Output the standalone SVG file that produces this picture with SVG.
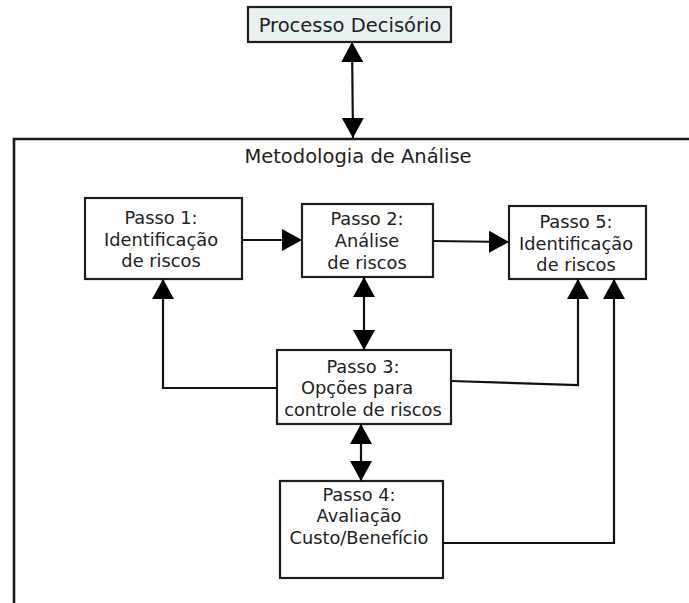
<svg xmlns="http://www.w3.org/2000/svg" width="689" height="603" viewBox="0 0 689 603">
<style>
  .box { fill: #ffffff; stroke: #1e1e1e; stroke-width: 2.2; }
  .t { font-family: "DejaVu Sans", Verdana, sans-serif; font-size: 17.8px; fill: #222; text-anchor: middle; }
  .title { font-family: "DejaVu Sans", Verdana, sans-serif; font-size: 19.5px; fill: #222; text-anchor: middle; }
  .c { fill: none; stroke: #111; stroke-width: 2.2; }
</style>
<defs>
  <marker id="ah" viewBox="0 0 20 22" refX="20" refY="11" markerWidth="20" markerHeight="22" markerUnits="userSpaceOnUse" orient="auto-start-reverse">
    <path d="M0,0 L20,11 L0,22 z" fill="#000"/>
  </marker>
</defs>
<rect width="689" height="603" fill="#fff"/>

<g id="frame">
  <path d="M14,603 V139 H689" fill="none" stroke="#1a1a1a" stroke-width="2.6"/>
  <text class="title" x="358" y="163">Metodologia de Análise</text>
</g>

<g id="processo">
  <rect x="248" y="7" width="203" height="35" fill="#e8f0f0" stroke="#1e1e1e" stroke-width="2.2"/>
  <text class="title" x="350" y="32">Processo Decisório</text>
</g>

<g id="passo1">
  <rect class="box" x="85" y="198" width="157" height="81"/>
  <text class="t" x="161" y="224">Passo 1:</text>
  <text class="t" x="161" y="246">Identificação</text>
  <text class="t" x="161" y="267">de riscos</text>
</g>

<g id="passo2">
  <rect class="box" x="302" y="204" width="131" height="73"/>
  <text class="t" x="367" y="225">Passo 2:</text>
  <text class="t" x="367" y="247">Análise</text>
  <text class="t" x="367" y="269">de riscos</text>
</g>

<g id="passo5">
  <rect class="box" x="509" y="206" width="137" height="73"/>
  <text class="t" x="576" y="228">Passo 5:</text>
  <text class="t" x="576" y="250">Identificação</text>
  <text class="t" x="576" y="271">de riscos</text>
</g>

<g id="passo3">
  <rect class="box" x="277" y="350" width="174" height="74"/>
  <text class="t" x="363" y="373">Passo 3:</text>
  <text class="t" x="357" y="394">Opções para</text>
  <text class="t" x="363" y="416">controle de riscos</text>
</g>

<g id="passo4">
  <rect class="box" x="280" y="481" width="163" height="97"/>
  <text class="t" x="359" y="501">Passo 4:</text>
  <text class="t" x="359" y="522">Avaliação</text>
  <text class="t" x="359" y="544">Custo/Benefício</text>
</g>

<g id="connectors">
  <line class="c" x1="352" y1="42" x2="353" y2="138" marker-start="url(#ah)" marker-end="url(#ah)"/>
  <line class="c" x1="242" y1="240" x2="302" y2="240" marker-end="url(#ah)"/>
  <line class="c" x1="433" y1="241" x2="509" y2="242" marker-end="url(#ah)"/>
  <path class="c" d="M277,388 H163 V279" marker-end="url(#ah)"/>
  <line class="c" x1="364" y1="277" x2="364" y2="350" marker-start="url(#ah)" marker-end="url(#ah)"/>
  <path class="c" d="M451,381 L578,385 V279" marker-end="url(#ah)"/>
  <line class="c" x1="361" y1="424" x2="361" y2="481" marker-start="url(#ah)" marker-end="url(#ah)"/>
  <path class="c" d="M443,543 H614 V279" marker-end="url(#ah)"/>
</g>
</svg>
